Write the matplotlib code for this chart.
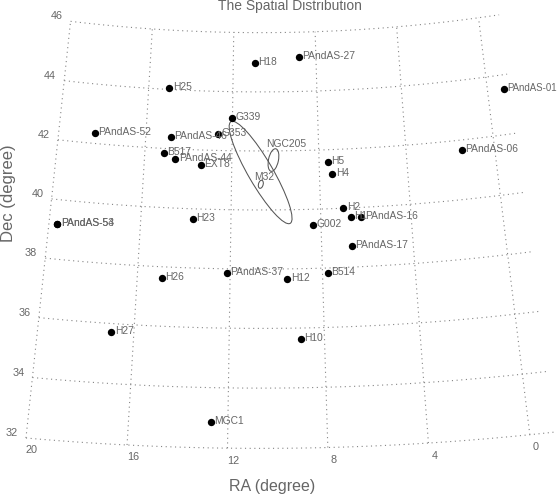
import numpy as np
import matplotlib
matplotlib.use("Agg")
import matplotlib.pyplot as plt
from matplotlib.patches import Ellipse

plt.rcParams['font.family'] = ['Liberation Sans', 'DejaVu Sans']

# tangent point of the projection (M31)
ra0, dec0 = 10.68, 41.27

names = ['H18', 'H25', 'G339', 'PAndAS-52', 'PAndAS-46', 'G353', 'B517', 'PAndAS-44',
         'EXT8', 'H23', 'PAndAS-53', 'PAndAS-54', 'PAndAS-27', 'PAndAS-01', 'PAndAS-06',
         'H5', 'H4', 'H2', 'H1', 'PAndAS-16', 'G002', 'PAndAS-17', 'H26', 'PAndAS-37',
         'H27', 'MGC1', 'H12', 'B514', 'H10']
ra = [10.95, 15.03, 12.02, 18.35, 14.84, 12.65, 15.12, 14.59,
      13.41, 13.69, 19.64, 19.64, 8.83, -0.76, 1.47,
      7.61, 7.42, 6.98, 6.66, 6.20, 8.37, 6.67, 14.95, 12.15,
      16.94, 12.69, 9.53, 7.77, 9.00]
dec = [44.97, 44.05, 43.12, 42.35, 42.41, 42.55, 41.85, 41.66,
       41.50, 39.66, 39.18, 39.18, 45.16, 43.52, 41.66,
       41.58, 41.18, 40.00, 39.70, 39.67, 39.47, 38.70, 37.61, 37.86,
       35.71, 32.87, 37.67, 37.84, 35.62]

ra_ticks = [20, 16, 12, 8, 4, 0]
dec_ticks = [46, 44, 42, 40, 38, 36, 34, 32]

# galaxies: name, ra, dec, semi-major (deg), semi-minor (deg), position angle
gal_names = ['M31', 'NGC205', 'M32']
gal_ra = [10.68, 10.09, 10.67]
gal_dec = [41.27, 41.69, 40.87]
gal_a = [2.0, 0.39, 0.14]
gal_b = [0.42, 0.17, 0.08]
gal_pa = [30.5, -12, -15]


def tangent(r, d):
    """RA, Dec in degree to standard coordinates in degree."""
    r = np.radians(np.asarray(r, dtype=float) - ra0)
    d = np.radians(np.asarray(d, dtype=float))
    d0 = np.radians(dec0)
    den = np.sin(d) * np.sin(d0) + np.cos(d) * np.cos(d0) * np.cos(r)
    xi = np.cos(d) * np.sin(r) / den
    eta = (np.sin(d) * np.cos(d0) - np.cos(d) * np.sin(d0) * np.cos(r)) / den
    return np.degrees(xi), np.degrees(eta)


fig = plt.figure(figsize=(5.57, 5.0), dpi=100)
ax = fig.add_axes([0, 0, 1, 1])
ax.set_xlim(8.931, -10.158)
ax.set_ylim(-11.102, 5.847)
ax.axis('off')

grid_style = dict(color='#858585', lw=0.8, ls=(0, (1, 3.2)), zorder=1)
text_gray = '#666666'

# graticule
for r in ra_ticks:
    ax.plot(*tangent(np.full(50, r), np.linspace(32, 46, 50)), **grid_style)
for d in dec_ticks:
    ax.plot(*tangent(np.linspace(20, -1, 80), np.full(80, d)), **grid_style)

# tick labels
for d in dec_ticks:
    ax.annotate(str(d), tangent(20, d), xytext=(-14, 5), textcoords='offset pixels',
                ha='center', va='center', fontsize=7.8, color=text_gray)
for r in ra_ticks:
    ax.annotate(str(r), tangent(r, 32), xytext=(6, -12.5), textcoords='offset pixels',
                ha='center', va='center', fontsize=7.8, color=text_gray)

# clusters
x, y = tangent(ra, dec)
ax.scatter(x, y, s=28, c='k', linewidths=0, zorder=3)
for name, xi, eta in zip(names, x, y):
    # the last label sits against the right edge
    size = 6.9 if name == 'PAndAS-01' else 7.4
    ax.annotate(name, (xi, eta), xytext=(3.5, 1), textcoords='offset pixels',
                ha='left', va='center', fontsize=size, color=text_gray, zorder=4)

# galaxies
for i, name in enumerate(gal_names):
    gx, gy = tangent(gal_ra[i], gal_dec[i])
    ax.add_patch(Ellipse((gx, gy), 2 * gal_a[i], 2 * gal_b[i], angle=90 - gal_pa[i],
                         fill=False, ec='#555555', lw=0.75, zorder=2))
gx, gy = tangent(gal_ra[1], gal_dec[1])
ax.annotate('NGC205', (gx, gy), xytext=(13, 16), textcoords='offset pixels',
            ha='center', va='center', fontsize=7.4, color=text_gray)
gx, gy = tangent(gal_ra[2], gal_dec[2])
ax.annotate('M32', (gx, gy), xytext=(3, 7), textcoords='offset pixels',
            ha='center', va='center', fontsize=7.4, color=text_gray)

fig.text(290 / 557, 1 - 6 / 500, 'The Spatial Distribution', ha='center', va='center',
         fontsize=10, color=text_gray)
fig.text(272 / 557, 1 - 486 / 500, 'RA (degree)', ha='center', va='center',
         fontsize=11.5, color=text_gray)
fig.text(9 / 557, 1 - 193 / 500, 'Dec (degree)', ha='center', va='center',
         rotation=90, fontsize=12, color=text_gray)

fig.savefig('out.png', dpi=100)
